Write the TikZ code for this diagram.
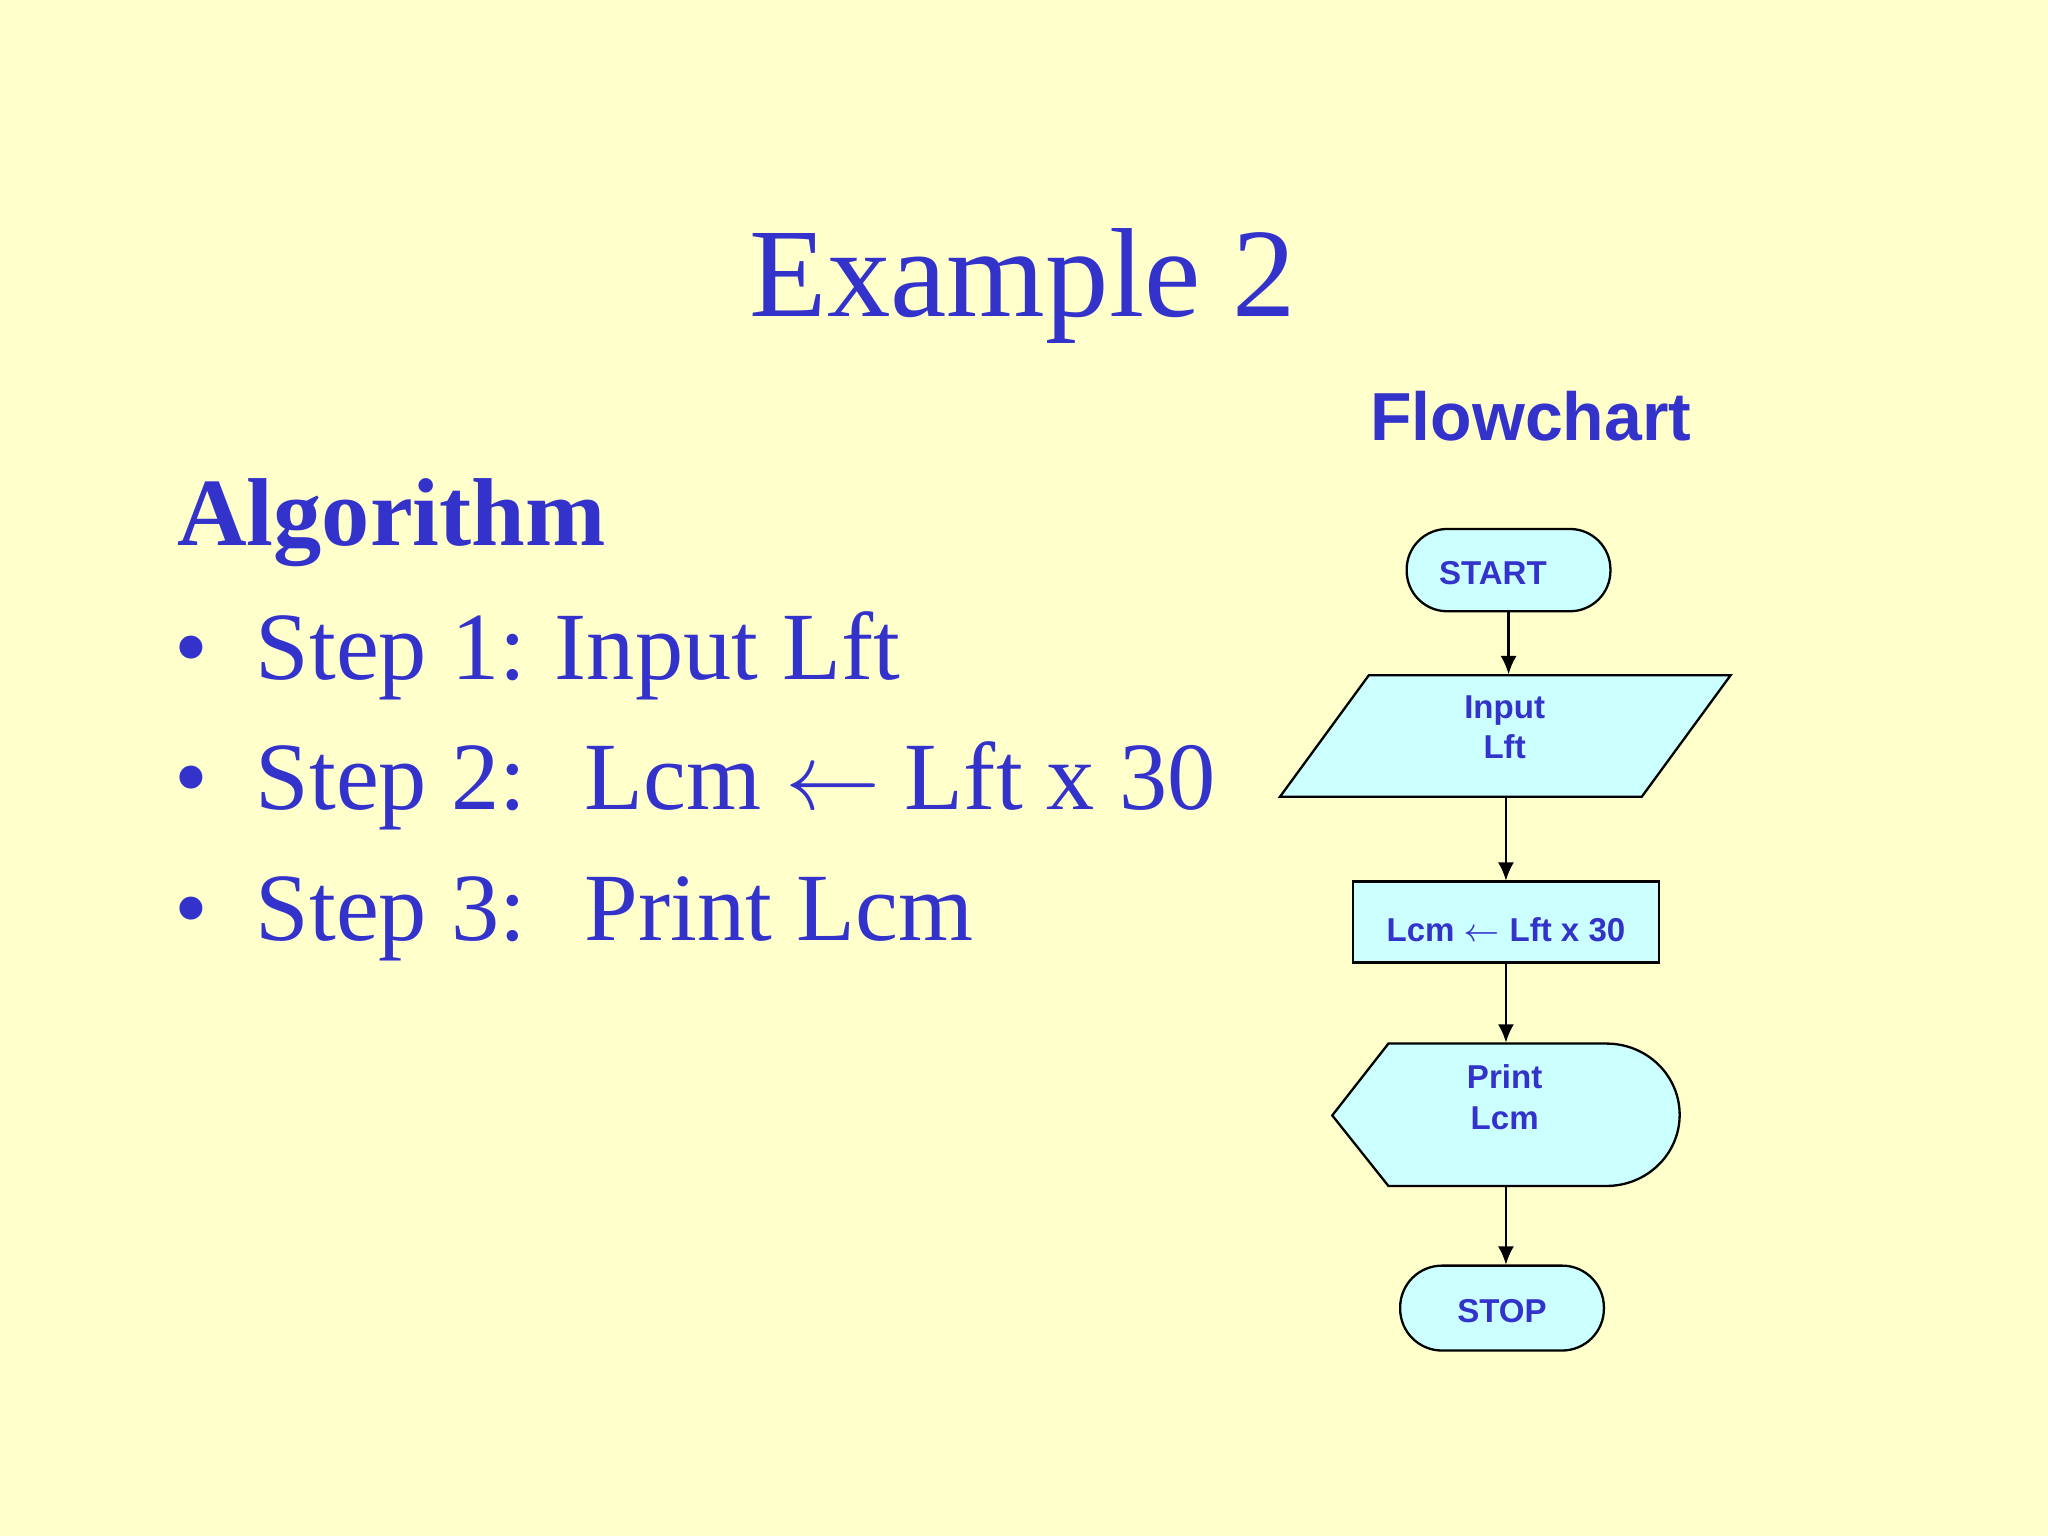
\documentclass[tikz,border=0pt]{standalone}
\usepackage{fontspec}
\setmainfont{Liberation Serif}
\newfontfamily\arial{Liberation Sans}
\usetikzlibrary{arrows.meta}
\definecolor{bg}{HTML}{FFFFCC}
\definecolor{txt}{HTML}{3333CC}
\definecolor{shp}{HTML}{CCFFFF}
\tikzset{
  shapebox/.style={draw=black, fill=shp, line width=0.5pt},
  lbl/.style={text=txt, font=\arial\bfseries\fontsize{7.2}{8.8}\selectfont, align=center, inner sep=0},
  anch/.style={inner sep=0, draw=none},
  conn/.style={-{Latex[length=4pt,width=3.5pt]}, line width=0.5pt},
  big/.style={text=txt, anchor=base west, inner sep=0, font=\fontsize{21}{25}\selectfont},
}
\begin{document}
\begin{tikzpicture}[x=0.01cm,y=-0.01cm]
\fill[bg] (0,0) rectangle (1568,1176);
\useasboundingbox (0,0) rectangle (1568,1176);
\node[text=txt, anchor=base, inner sep=0, font=\fontsize{27.6}{32}\selectfont] (title) at (783,242) {Example 2};
\node[big, font=\bfseries\fontsize{21}{25}\selectfont] (alg) at (135,418) {Algorithm};
\foreach \y/\n in {520/1,620/2,720/3}{
  \node[big] (b\n) at (133,\y) {\textbullet};
  \node[big] (s\n) at (195,\y) {Step \n:};
}
\node[big] (t1) at (424,520) {Input Lft};
\node[big] (t2) at (447,620) {Lcm $\leftarrow$ Lft x 30};
\node[big] (t3) at (447,720) {Print Lcm};
\node[text=txt, anchor=base, inner sep=0, font=\arial\bfseries\fontsize{14.8}{18}\selectfont] (fc) at (1172,337) {Flowchart};
% START
\draw[shapebox, rounded corners=0.31cm] (1077,405) rectangle (1233,468);
\node[anch, minimum width=1.56cm, minimum height=0.63cm] (start) at (1155,436.5) {};
\node[lbl] (startl) at (1143,439) {START};
% Input
\draw[shapebox] (1048,517) -- (1325,517) -- (1257,610) -- (980,610) -- cycle;
\node[anch, minimum width=2.77cm, minimum height=0.93cm] (inp) at (1153,563.5) {};
\node[lbl] (inpl) at (1152,557) {Input\\Lft};
% Process
\draw[shapebox] (1036,675) rectangle (1270,737);
\node[anch, minimum width=2.34cm, minimum height=0.62cm] (proc) at (1153,706) {};
\node[lbl] (procl) at (1153,712) {Lcm $\leftarrow$ Lft x 30};
% Display
\draw[shapebox] (1020,854) -- (1063,799) -- (1230,799) arc[start angle=90,end angle=-90,x radius=56,y radius=-54.5] -- (1063,908) -- cycle;
\node[anch, minimum width=2.66cm, minimum height=1.09cm] (disp) at (1153,853.5) {};
\node[lbl] (displ) at (1152,840) {Print\\Lcm};
% STOP
\draw[shapebox, rounded corners=0.32cm] (1072,969) rectangle (1228,1034);
\node[anch, minimum width=1.56cm, minimum height=0.65cm] (stop) at (1150,1001.5) {};
\node[lbl] (stopl) at (1150,1004) {STOP};
% connectors
\draw[conn] (start.south) -- (start.south |- inp.north);
\draw[conn] (inp.south) -- (proc.north);
\draw[conn] (proc.south) -- (disp.north);
\draw[conn] (disp.south) -- (disp.south |- stop.north);
\end{tikzpicture}
\end{document}
